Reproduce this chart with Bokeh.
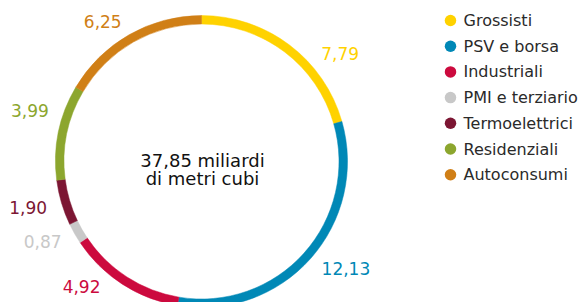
import math
from bokeh.plotting import figure
from bokeh.models import Range1d, ColumnDataSource
from bokeh.core.properties import value
from bokeh.embed import file_html
from bokeh.resources import INLINE

# ---- data ----
categories = ["Grossisti", "PSV e borsa", "Industriali", "PMI e terziario",
              "Termoelettrici", "Residenziali", "Autoconsumi"]
values = [7.79, 12.13, 4.92, 0.87, 1.90, 3.99, 6.25]
value_labels = ["7,79", "12,13", "4,92", "0,87", "1,90", "3,99", "6,25"]
colors = ["#FFD200", "#0088B6", "#CC0A3E", "#C8C8C8", "#7C1633", "#8CA62E", "#D07F16"]
center_lines = ["37,85 miliardi", "di metri cubi"]

# ---- layout (pixels) ----
W, H = 582, 302
CX, CY = 201, 161
R_OUT, R_IN = 146, 137.5
R_LABEL = 161
label_shift_deg = [11, 0, 6, 0, 0, 7, 0]   # manual label placement nudges
FONT = value("DejaVu Sans")

p = figure(width=W, height=H, output_backend="svg", toolbar_location=None,
           x_range=Range1d(0, W), y_range=Range1d(-H, 0),
           min_border=0)
p.axis.visible = False
p.grid.visible = False
p.outline_line_color = None
p.background_fill_color = "white"

total = sum(values)
starts, ends, lx, ly, al = [], [], [], [], []
acc = 0.0
for v, sh in zip(values, label_shift_deg):
    t1 = acc / total * 360
    acc += v
    t2 = acc / total * 360
    starts.append(math.radians(90 - t1))
    ends.append(math.radians(90 - t2))
    mid = (t1 + t2) / 2 + sh
    s = math.sin(math.radians(mid))
    lx.append(CX + R_LABEL * s)
    ly.append(-(CY - R_LABEL * math.cos(math.radians(mid))))
    al.append("left" if s >= 0 else "right")

src = ColumnDataSource(dict(start=starts, end=ends, color=colors,
                            lx=lx, ly=ly, al=al, lab=value_labels))
p.annular_wedge(x=CX, y=-CY, inner_radius=R_IN, outer_radius=R_OUT,
                start_angle="start", end_angle="end", direction="clock",
                fill_color="color", line_color="color", line_width=0.5, source=src)

p.text(x="lx", y="ly", text="lab", text_color="color", source=src,
       text_font=FONT, text_font_size="17px", text_align="al",
       text_baseline="middle")

# center text
p.text(x=[CX + 1, CX + 1], y=[-160, -178], text=center_lines, text_font=FONT,
       text_font_size="18px", text_align="center", text_baseline="alphabetic",
       text_color="#111111")

# legend
LX, LY0, LSTEP = 450, 20, 25.7
leg = ColumnDataSource(dict(x=[LX] * len(categories),
                            y=[-(LY0 + i * LSTEP) for i in range(len(categories))],
                            tx=[LX + 13] * len(categories),
                            cat=categories, color=colors))
p.scatter(x="x", y="y", size=11.5, fill_color="color", line_color=None, source=leg)
p.text(x="tx", y="y", text="cat", source=leg, text_font=FONT, text_font_size="16px",
       text_align="left", text_baseline="middle", text_color="#2a2a2a")

open("out.html", "w").write(file_html(p, INLINE))
